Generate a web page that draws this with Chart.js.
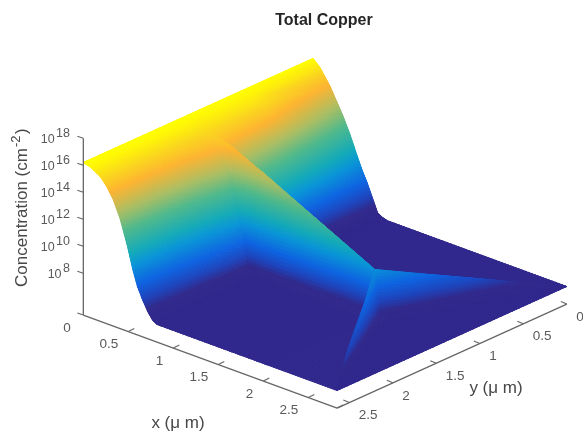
<!DOCTYPE html>
<html><head><meta charset="utf-8">
<style>html,body{margin:0;padding:0;background:#fff}canvas{display:block;filter:blur(0.5px)}</style>
<script src="https://cdn.jsdelivr.net/npm/chart.js@4"></script></head>
<body><canvas id="c" width="583" height="433"></canvas>
<script>
// ---- values (x, y in micrometres, C as log10 concentration)
const xStations=[0,0.08,0.19,0.26,0.33,0.41,0.49,0.55,0.6,0.66,0.72,0.77,0.82,1.2,1.6,2.06];
const yStations=[0,0.8,1.36,1.42,1.5,1.8,2.2,2.64];
const logC_y000=[16.2,15.7,14.6,13.7,12.8,11.6,10.2,9.2,8.5,7.5,6.5,6.3,6.2,6.2,6.2,6.2];
const logC_y080=[16.2,16.0,15.6,15.1,14.5,13.2,11.8,10.5,9.2,7.7,6.6,6.3,6.2,6.2,6.2,6.2];
const logC_y136=[16.2,16.05,15.65,15.3,14.9,13.9,12.3,10.8,9.4,7.8,6.6,6.3,6.2,6.2,6.2,6.2];
const logC_y142=[16.2,16.05,15.65,15.4,15.2,15.1,14.9,14.7,14.55,14.35,14.15,14.0,13.87,12.6,11.27,9.74];
const logC_y150=[16.2,16.05,15.65,15.3,15.0,14.4,13.4,12.0,10.8,9.2,7.2,6.5,6.2,6.2,6.2,6.2];
const logC_y180=[16.2,16.05,15.6,15.2,14.7,13.8,12.2,10.8,9.6,8.4,7.0,6.4,6.2,6.2,6.2,6.2];
const logC_y220=[16.2,16.05,15.6,15.1,14.4,13.2,11.5,10.0,8.9,7.8,6.9,6.4,6.2,6.2,6.2,6.2];
const logC_y264=[16.2,16.05,15.6,15.05,14.3,13.0,11.2,9.6,8.5,7.6,6.85,6.4,6.2,6.2,6.2,6.2];
const gridLogC=[logC_y000,logC_y080,logC_y136,logC_y142,logC_y150,logC_y180,logC_y220,logC_y264];
// mesh nodes of the outer part of the domain: [x, y, log10 C]
const edgeNodes={A:[2.06,0,6.2],B:[2.06,1.36,6.2],P:[2.06,1.42,9.74],G:[2.06,1.5,6.2],H:[2.06,2.64,6.2],
  E:[2.2,1.5,6.2],RC:[2.82,0,6.2],FC:[2.82,2.64,6.2],
  C1:[2.25,1.065,8.84],C2:[2.44,0.71,7.97],C3:[2.63,0.355,7.08],
  R1:[2.25,1.725,8.8],R2:[2.44,2.03,8.2],R3:[2.63,2.335,7.6]};
const edgeCells=[['A','RC','B'],['B','P','C1'],['B','C1','C2'],['B','C2','C3'],['B','C3','RC'],
  ['P','E','C1'],['C1','E','C2'],['C2','E','C3'],['C3','E','RC'],['E','RC','FC'],
  ['P','R1','E'],['R1','R2','E'],['R2','R3','E'],['R3','FC','E'],
  ['P','G','R1'],['R1','G','R2'],['R2','G','R3'],['R3','G','FC'],['G','FC','H']];
const xTicks=[0.5,1,1.5,2,2.5];
const yTicks=[0,0.5,1,1.5,2,2.5];
const zTicks=[8,10,12,14,16,18];
const xMax=2.82,yMax=2.64,zBase=4.9,zTop=18;
const colourPos=[0,0.08,0.15,0.24,0.37,0.45,0.6,0.72,0.85,0.93,1];
const colourRGB=[[48,40,140],[50,42,140],[30,70,190],[15,100,225],[10,150,215],[20,170,185],[80,185,140],[170,190,100],[253,180,50],[250,215,30],[255,255,0]];

// ---- view of the 3D box
const view={ox:313,oy:211,xdx:90,xdy:33,ydx:-87,ydy:39.4,zPx:13.5};
function proj(x,y,lc){return {x:view.ox+view.xdx*x+view.ydx*y,
  y:view.oy+view.xdy*x+view.ydy*y-(lc-zBase)*view.zPx};}
function colour(lc){const t=Math.min(1,Math.max(0,(lc-6.2)/10));
  let i=0;while(i<colourPos.length-2&&t>colourPos[i+1])i++;
  const f=(t-colourPos[i])/(colourPos[i+1]-colourPos[i]);
  const a=colourRGB[i],b=colourRGB[i+1];
  return 'rgb('+[0,1,2].map(k=>Math.round(a[k]+(b[k]-a[k])*f)).join(',')+')';}

// mesh triangles
const tris=[];
for(let j=0;j<yStations.length-1;j++)for(let i=0;i<xStations.length-1;i++){
  const v=(a,b)=>[xStations[a],yStations[b],gridLogC[b][a]];
  tris.push([v(i,j),v(i+1,j),v(i,j+1)],[v(i+1,j),v(i+1,j+1),v(i,j+1)]);
}
edgeCells.forEach(c=>tris.push(c.map(n=>edgeNodes[n])));

const axisGrey='#666666';
const P3=(x,y,z)=>proj(x,y,z);
const gap={x:null,y:null};
function seg(list){const o=[];list.forEach(s=>{o.push(s[0],s[1],gap)});return o;}
const axisSegs=[
  [P3(0,yMax,zBase),P3(0,yMax,zTop)],
  [P3(0,yMax,zBase),P3(xMax,yMax,zBase)],
  [P3(xMax,yMax,zBase),P3(xMax,0,zBase)]];
const tickSegs=[];
xTicks.forEach(t=>{const p=P3(t,yMax,zBase);tickSegs.push([p,{x:p.x+6,y:p.y-3}]);});
yTicks.forEach(t=>{const p=P3(xMax,t,zBase);tickSegs.push([p,{x:p.x-6,y:p.y-2.5}]);});
tickSegs.push([P3(xMax,yMax,zBase),{x:P3(xMax,yMax,zBase).x+6,y:P3(xMax,yMax,zBase).y-3}]);
zTicks.concat([zBase]).forEach(t=>{const p=P3(0,yMax,t);tickSegs.push([p,{x:p.x-6,y:p.y-2}]);});

const surfacePlugin={id:'surface',beforeDatasetsDraw(ch){
  const ctx=ch.ctx,sx=ch.scales.x,sy=ch.scales.y;
  const small=[];
  const px=v=>{const p=proj(v[0],v[1],v[2]);return [sx.getPixelForValue(p.x),sy.getPixelForValue(p.y)];};
  const mix=(A,B,C,a,b,c)=>[0,1,2].map(k=>A[k]*a+B[k]*b+C[k]*c);
  tris.forEach(t=>{
    const [A,B,C]=t,pa=px(A),pb=px(B),pc=px(C);
    const len=Math.max(Math.hypot(pa[0]-pb[0],pa[1]-pb[1]),Math.hypot(pb[0]-pc[0],pb[1]-pc[1]),Math.hypot(pa[0]-pc[0],pa[1]-pc[1]));
    const n=Math.max(1,Math.ceil(len/4));
    const add=(p,q,r)=>{const m=mix(p,q,r,1/3,1/3,1/3);
      small.push({d:33*m[0]+39.4*m[1],c:colour(m[2]),a:px(p),b:px(q),e:px(r)});};
    for(let i=0;i<n;i++)for(let j=0;j<n-i;j++){
      const at=(u,v)=>mix(A,B,C,1-u/n-v/n,u/n,v/n);
      add(at(i,j),at(i+1,j),at(i,j+1));
      if(i+j<n-1)add(at(i+1,j),at(i+1,j+1),at(i,j+1));
    }
  });
  small.sort((p,q)=>p.d-q.d);
  ctx.save();ctx.lineWidth=1;ctx.lineJoin='round';
  small.forEach(s=>{ctx.fillStyle=ctx.strokeStyle=s.c;ctx.beginPath();
    ctx.moveTo(s.a[0],s.a[1]);ctx.lineTo(s.b[0],s.b[1]);ctx.lineTo(s.e[0],s.e[1]);ctx.closePath();ctx.fill();ctx.stroke();});
  ctx.restore();
}};

const textPlugin={id:'texts',afterDraw(ch){
  const ctx=ch.ctx,F='"Liberation Sans",Arial,sans-serif';
  ctx.save();ctx.textBaseline='middle';
  const put=(s,x,y,al,font,col)=>{ctx.font=font;ctx.fillStyle=col;ctx.textAlign=al;ctx.fillText(s,x,y);};
  const tf='13.5px '+F,zf='12.5px '+F,tc='#595959',lf='17px '+F,lc='#474747';
  xTicks.forEach(t=>{const p=P3(t,yMax,zBase);put(String(t),p.x-10,p.y+13,'right',tf,tc);});
  yTicks.forEach(t=>{const p=P3(xMax,t,zBase);put(String(t),p.x+9.5,p.y+13,'left',tf,tc);});
  zTicks.forEach(t=>{const p=P3(0,yMax,t);
    put(String(t),70,p.y-5,'right',zf,tc);
    const w=ctx.measureText(String(t)).width;
    put('10',70-w-1.5,p.y+1.5,'right',zf,tc);});
  put('0',67,328,'center',tf,tc);
  put('x (\u03BC m)',178,423,'center',lf,lc);
  put('y (\u03BC m)',496,388,'center',lf,lc);
  put('Total Copper',324,21,'center','bold 16px '+F,'#262626');
  ctx.translate(22,207.5);ctx.rotate(-Math.PI/2);
  ctx.font=lf;const a='Concentration (cm',w=ctx.measureText(a).width;
  const tot=w+20;
  put(a,-tot/2,0,'left',lf,lc);
  put('-2',-tot/2+w+1,-6,'left','13px '+F,lc);
  put(')',-tot/2+w+14,0,'left',lf,lc);
  ctx.restore();
}};

new Chart(document.getElementById('c'),{
  type:'scatter',
  data:{datasets:[
    {label:'surface mesh',data:tris.flat().map(v=>proj(v[0],v[1],v[2])),pointRadius:0,showLine:false},
    {label:'axes',data:seg(axisSegs),showLine:true,spanGaps:false,borderColor:axisGrey,borderWidth:1.3,pointRadius:0},
    {label:'ticks',data:seg(tickSegs),showLine:true,spanGaps:false,borderColor:axisGrey,borderWidth:1.1,pointRadius:0}
  ]},
  options:{responsive:false,animation:false,layout:{padding:0},
    plugins:{legend:{display:false},tooltip:{enabled:false},title:{display:false}},
    scales:{x:{type:'linear',display:false,min:0,max:583,grace:0},
            y:{type:'linear',display:false,min:0,max:433,reverse:true,grace:0}}},
  plugins:[surfacePlugin,textPlugin]
});
</script></body></html>
